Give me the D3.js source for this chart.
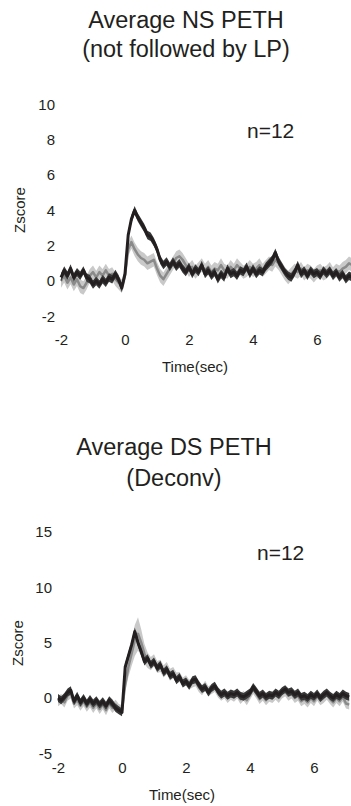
<!DOCTYPE html>
<html>
<head>
<meta charset="utf-8">
<script src="https://cdn.jsdelivr.net/npm/d3@7"></script>
<style>
  html, body { margin: 0; padding: 0; background: #fff; }
  svg { display: block; font-family: "Liberation Sans", Arial, sans-serif; }
</style>
</head>
<body>
<svg id="chart" width="351" height="806"></svg>
<script>
// Time base: -2 s to 7.1 s in 0.1 s steps
const time = d3.range(-20, 72).map(i => i / 10);

// NS PETH (not followed by LP): two group averages, z-scored
const nsBlack = [
  0.2, 0.6, 0.3, 0.7, 0.2, 0.5, 0.3, 0.6, 0.2, 0.1,
  -0.2, 0.0, -0.2, 0.1, -0.1, 0.2, 0.1, 0.4, 0.1, -0.4,
  0.4, 2.6, 3.5, 4.0, 3.6, 3.3, 3.0, 2.6, 2.5, 2.2,
  1.8, 1.2, 0.9, 1.1, 0.8, 1.1, 0.8, 1.0, 0.7, 0.5,
  0.8, 0.4, 0.7, 0.5, 0.9, 0.4, 0.6, 0.3, 0.5, 0.1,
  0.4, 0.2, 0.7, 0.4, 0.5, 0.3, 0.6, 0.5, 0.8, 0.4,
  0.7, 0.4, 0.6, 0.5, 0.8, 1.0, 1.2, 1.6, 1.1, 0.8,
  0.5, 0.3, 0.2, 0.5, 0.9, 0.4, 0.6, 0.3, 0.6, 0.4,
  0.5, 0.3, 0.6, 0.4, 0.6, 0.3, 0.5, 0.2, 0.4, 0.1,
  0.3, 0.2
];
const nsGray = [
  0.0, 0.3, -0.1, 0.2, -0.2, 0.1, -0.3, -0.4, -0.1, 0.3,
  0.5, 0.2, 0.5, 0.3, 0.6, 0.3, 0.4, 0.1, -0.1, -0.3,
  0.3, 1.8, 2.2, 1.8, 1.5, 1.3, 1.2, 1.0, 1.1, 1.2,
  0.7, 0.3, 0.1, 0.4, 0.7, 1.0, 1.3, 1.4, 1.2, 0.9,
  0.6, 0.8, 0.5, 0.7, 0.9, 0.6, 0.8, 0.5, 0.7, 0.6,
  0.9, 0.6, 0.5, 0.8, 0.6, 0.9, 0.7, 0.5, 0.6, 0.8,
  0.6, 0.7, 0.9, 0.6, 0.8, 1.0, 0.9, 1.2, 1.0, 0.7,
  0.4, 0.2, 0.4, 0.6, 0.5, 0.7, 0.4, 0.6, 0.5, 0.3,
  0.5, 0.6, 0.4, 0.5, 0.7, 0.4, 0.6, 0.5, 0.7, 0.8,
  1.0, 0.9
];
const nsBlackSem = 0.24;
const nsGraySem = 0.38;

// DS PETH (deconvolved): two group averages, z-scored
const dsBlack = [
  0.0, -0.2, 0.1, 0.5, 0.7, -0.3, 0.2, -0.4, 0.0, -0.5,
  -0.1, -0.5, -0.2, -0.6, -0.3, -0.7, -0.2, -0.5, -0.9, -1.1,
  -1.3, 2.8, 3.8, 4.8, 6.0, 5.0, 4.2, 3.3, 3.6, 3.0,
  3.3, 2.7, 3.0, 2.3, 2.6, 2.0, 2.2, 1.6, 1.9, 1.3,
  1.5, 1.1, 1.6, 1.7, 1.2, 0.8, 1.0, 0.5, 0.9, 1.1,
  0.6, 0.3, 0.5, 0.2, 0.4, 0.3, 0.5, 0.2, 0.1, 0.3,
  0.5, 1.0, 0.6, 0.2, 0.4, 0.1, 0.3, 0.2, 0.5, 0.3,
  0.6, 0.8, 0.5, 0.6, 0.3, 0.5, 0.1, 0.2, 0.0, 0.3,
  0.1, 0.4, 0.0, 0.3, 0.5, 0.2, 0.0, 0.3, 0.1, 0.4,
  0.2, 0.1
];
const dsGray = [
  -0.3, -0.1, -0.4, 0.2, 0.4, -0.5, -0.2, -0.7, -0.3, -0.8,
  -0.4, -0.9, -0.5, -1.0, -0.6, -1.1, -0.5, -0.9, -0.6, -1.0,
  -1.1, 1.2, 2.8, 4.0, 5.2, 5.8, 5.0, 4.0, 3.4, 3.1,
  3.4, 2.8, 2.9, 2.4, 2.7, 2.1, 2.3, 1.8, 1.9, 1.4,
  1.6, 1.2, 1.4, 1.5, 1.0, 0.7, 1.1, 0.6, 0.8, 1.0,
  0.5, 0.2, 0.4, 0.0, 0.3, 0.1, 0.4, -0.1, 0.2, -0.2,
  0.3, 0.8, 0.4, -0.1, 0.2, -0.2, 0.1, 0.0, 0.3, 0.0,
  0.4, 0.6, 0.2, 0.4, 0.0, 0.2, -0.3, -0.1, -0.4, 0.0,
  -0.3, 0.2, -0.2, 0.0, 0.3, -0.1, -0.4, 0.0, -0.3, 0.1,
  -0.5, -0.6
];
const dsBlackSem = 0.36;
const dsGraySem = [
  0.45, 0.45, 0.45, 0.45, 0.45, 0.45, 0.45, 0.45, 0.45, 0.45,
  0.45, 0.45, 0.45, 0.45, 0.45, 0.45, 0.45, 0.45, 0.45, 0.45,
  0.45, 0.6, 0.9, 1.1, 1.4, 1.5, 1.2, 0.9, 0.7, 0.6,
  0.55, 0.55, 0.55, 0.55, 0.55, 0.55, 0.5, 0.5, 0.45, 0.45,
  0.45, 0.45, 0.45, 0.45, 0.45, 0.45, 0.45, 0.45, 0.45, 0.45,
  0.45, 0.45, 0.45, 0.45, 0.45, 0.45, 0.45, 0.45, 0.45, 0.45,
  0.45, 0.45, 0.45, 0.45, 0.45, 0.45, 0.45, 0.45, 0.45, 0.45,
  0.45, 0.45, 0.45, 0.45, 0.45, 0.45, 0.45, 0.45, 0.45, 0.45,
  0.45, 0.45, 0.45, 0.45, 0.45, 0.45, 0.45, 0.45, 0.45, 0.45,
  0.45, 0.45
];

const xTicks = [-2, 0, 2, 4, 6];
const nsYTicks = [-2, 0, 2, 4, 6, 8, 10];
const dsYTicks = [-5, 0, 5, 10, 15];

const colors = {
  blackLine: "#231f20",
  blackBand: "#383838",
  grayLine: "#8a8a8a",
  grayBand: "#c9c9c9",
  text: "#231f20"
};

const svg = d3.select("#chart");
// plain hyphen-minus in tick labels
const tickFmt = d => String(d);

function panel(cfg) {
  const g = svg.append("g");
  const x = d3.scaleLinear().domain([-2, 7.1]).range(cfg.xRange);
  const y = d3.scaleLinear().domain(cfg.yDomain).range(cfg.yRange);

  // title lines
  cfg.title.forEach((t, i) => {
    g.append("text")
      .attr("x", cfg.titleX).attr("y", cfg.titleY[i])
      .attr("text-anchor", "middle")
      .attr("font-size", 23.5)
      .attr("fill", colors.text)
      .text(t);
  });

  // y tick labels (no axis line, no tick marks)
  const yAxis = g.append("g")
    .attr("transform", `translate(${cfg.yLabelX},0)`)
    .call(d3.axisLeft(y).tickValues(cfg.yTicks).tickFormat(tickFmt)
      .tickSize(0).tickPadding(0));
  yAxis.select(".domain").remove();
  yAxis.selectAll("text").attr("font-size", 15).attr("fill", colors.text)
    .attr("font-family", "Liberation Sans, Arial, sans-serif");

  // x tick labels
  const xAxis = g.append("g")
    .attr("transform", `translate(0,${cfg.xLabelY})`)
    .call(d3.axisBottom(x).tickValues(xTicks).tickFormat(tickFmt)
      .tickSize(0).tickPadding(0));
  xAxis.select(".domain").remove();
  xAxis.selectAll("text").attr("font-size", 15).attr("fill", colors.text)
    .attr("font-family", "Liberation Sans, Arial, sans-serif");

  // axis titles
  g.append("text")
    .attr("x", cfg.xTitle[0]).attr("y", cfg.xTitle[1])
    .attr("text-anchor", "middle").attr("font-size", 15)
    .attr("fill", colors.text).text("Time(sec)");
  g.append("text")
    .attr("transform", `translate(${cfg.yTitle[0]},${cfg.yTitle[1]}) rotate(-90)`)
    .attr("text-anchor", "middle").attr("dy", "0.35em").attr("font-size", 15)
    .attr("fill", colors.text).text("Zscore");

  // shaded mean ± SEM traces
  const semAt = (sem, i) => Array.isArray(sem) ? sem[i] : sem;
  const area = (vals, sem) => d3.area()
    .x((d, i) => x(time[i]))
    .y0((d, i) => y(vals[i] - semAt(sem, i)))
    .y1((d, i) => y(vals[i] + semAt(sem, i)))(vals);
  const line = vals => d3.line()
    .x((d, i) => x(time[i]))
    .y(d => y(d))(vals);

  g.append("path").attr("d", area(cfg.gray, cfg.graySem))
    .attr("fill", colors.grayBand);
  g.append("path").attr("d", line(cfg.gray))
    .attr("fill", "none").attr("stroke", colors.grayLine)
    .attr("stroke-width", 2.5).attr("stroke-linejoin", "round");
  g.append("path").attr("d", area(cfg.black, cfg.blackSem))
    .attr("fill", colors.blackBand);
  g.append("path").attr("d", line(cfg.black))
    .attr("fill", "none").attr("stroke", colors.blackLine)
    .attr("stroke-width", 3).attr("stroke-linejoin", "round");

  // sample size
  g.append("text")
    .attr("x", cfg.nPos[0]).attr("y", cfg.nPos[1])
    .attr("font-size", 21).attr("fill", colors.text)
    .text("n=12");
}

panel({
  title: ["Average NS PETH", "(not followed by LP)"],
  titleX: 186, titleY: [28, 57],
  xRange: [61, 61 + 9.1 * 32],
  yDomain: [-2, 10], yRange: [316.3, 104.3],
  yTicks: nsYTicks, yLabelX: 55, xLabelY: 334.5,
  xTitle: [195, 372], yTitle: [20, 210],
  black: nsBlack, blackSem: nsBlackSem,
  gray: nsGray, graySem: nsGraySem,
  nPos: [247, 138]
});

panel({
  title: ["Average DS PETH", "(Deconv)"],
  titleX: 174, titleY: [455, 486],
  xRange: [58, 58 + 9.1 * 32],
  yDomain: [-5, 15], yRange: [753.3, 532],
  yTicks: dsYTicks, yLabelX: 52, xLabelY: 762.5,
  xTitle: [182, 800], yTitle: [18, 643],
  black: dsBlack, blackSem: dsBlackSem,
  gray: dsGray, graySem: dsGraySem,
  nPos: [257, 560]
});
</script>
</body>
</html>
